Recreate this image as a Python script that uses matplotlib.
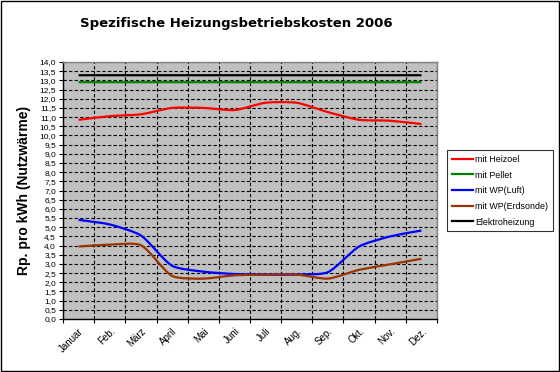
import matplotlib
matplotlib.use("Agg")
import matplotlib.pyplot as plt
from matplotlib.path import Path
from matplotlib.patches import PathPatch, Rectangle
from matplotlib.lines import Line2D
import numpy as np

plt.rcParams['font.family'] = ['Liberation Sans', 'DejaVu Sans']

months = ["Januar", "Feb.", "März", "April", "Mai", "Juni", "Juli", "Aug.", "Sep.", "Okt.", "Nov.", "Dez."]
heizoel = [10.85, 11.05, 11.15, 11.5, 11.5, 11.38, 11.78, 11.78, 11.27, 10.85, 10.8, 10.62]
pellet = [12.9] * 12
wp_luft = [5.4, 5.15, 4.55, 2.9, 2.58, 2.45, 2.42, 2.42, 2.55, 3.95, 4.5, 4.82]
wp_erdsonde = [3.95, 4.05, 4.02, 2.35, 2.2, 2.38, 2.42, 2.42, 2.2, 2.68, 2.98, 3.28]
elektro = [13.28] * 12

series = [
    ("mit Heizoel", heizoel, "#FF0000"),
    ("mit Pellet", pellet, "#008000"),
    ("mit WP(Luft)", wp_luft, "#0000FF"),
    ("mit WP(Erdsonde)", wp_erdsonde, "#993300"),
    ("Elektroheizung", elektro, "#000000"),
]

yticks = np.arange(0, 14.01, 0.5)

# approximate pixel scale per data unit (for isotropic smoothing)
SX, SY = 31.2, 18.36


def smooth_path(xs, ys, k=0.22):
    pts = np.column_stack([np.asarray(xs, float) * SX, np.asarray(ys, float) * SY])
    n = len(pts)
    tans = []
    for i in range(n):
        a = pts[i - 1] if i > 0 else pts[i]
        b = pts[i + 1] if i < n - 1 else pts[i]
        d = b - a
        L = np.hypot(*d)
        tans.append(d / L if L > 0 else np.zeros(2))
    verts = [pts[0]]
    codes = [Path.MOVETO]
    for i in range(n - 1):
        p1, p2 = pts[i], pts[i + 1]
        seg = np.hypot(*(p2 - p1))
        c1 = p1 + tans[i] * seg * k
        c2 = p2 - tans[i + 1] * seg * k
        verts += [c1, c2, p2]
        codes += [Path.CURVE4] * 3
    verts = np.array(verts) / np.array([SX, SY])
    return Path(verts, codes)


fig = plt.figure(figsize=(5.6, 3.72), dpi=100)
fig.patch.set_facecolor("white")
ax = fig.add_axes([63 / 560, 1 - 319 / 372, 374 / 560, 257 / 372])
ax.set_facecolor("#C0C0C0")

x = np.arange(len(months))
handles = []
for label, vals, color in series:
    patch = PathPatch(smooth_path(x, vals), fill=False, edgecolor=color, lw=1.6,
                      capstyle='butt', joinstyle='round', zorder=3)
    ax.add_patch(patch)
    handles.append(Line2D([], [], color=color, lw=1.6, label=label))

ax.set_xlim(-0.5, len(months) - 0.5)
ax.set_ylim(0, 14)

ax.set_xticks(np.arange(-0.5, len(months)), minor=False)
ax.set_xticklabels([])
ax.set_xticks(x, minor=True)
ax.set_xticklabels(months, minor=True, rotation=45, ha='right', va='top',
                   rotation_mode='anchor', fontsize=7)
ax.tick_params(axis='x', which='major', length=3, width=0.8, direction='out')
ax.tick_params(axis='x', which='minor', length=0, pad=5)

ax.set_yticks(yticks)
ax.set_yticklabels([f"{v:.1f}".replace('.', ',') for v in yticks], fontsize=6)
ax.tick_params(axis='y', length=3, width=0.8, direction='out', pad=2)

ax.grid(True, which='major', axis='both', color='black', linestyle=(0, (3, 2)), lw=0.8)
ax.set_axisbelow(True)
for sp in ax.spines.values():
    sp.set_color("#808080")
    sp.set_linewidth(1.0)
ax.spines['left'].set_color('black')
ax.spines['bottom'].set_color('black')

ax.set_ylabel("Rp. pro kWh (Nutzwärme)", fontsize=10, fontweight='bold', labelpad=6)
fig.text(236 / 560, 1 - 23 / 372, "Spezifische Heizungsbetriebskosten 2006",
         ha='center', va='center', fontsize=9.5, fontweight='bold',
         family=['DejaVu Sans'])

leg = fig.legend(handles=handles, loc='upper left', bbox_to_anchor=(447 / 560, 1 - 150 / 372),
                 frameon=True, fancybox=False, fontsize=6.4, handlelength=2.4,
                 handletextpad=0.2, labelspacing=0.75, borderpad=0.55, borderaxespad=0)
leg.get_frame().set_edgecolor('black')
leg.get_frame().set_linewidth(0.8)

fig.patches.append(Rectangle((0.001, 0.002), 0.997, 0.996, transform=fig.transFigure,
                             fill=False, edgecolor='black', lw=1))

fig.savefig("out.png", dpi=100)
